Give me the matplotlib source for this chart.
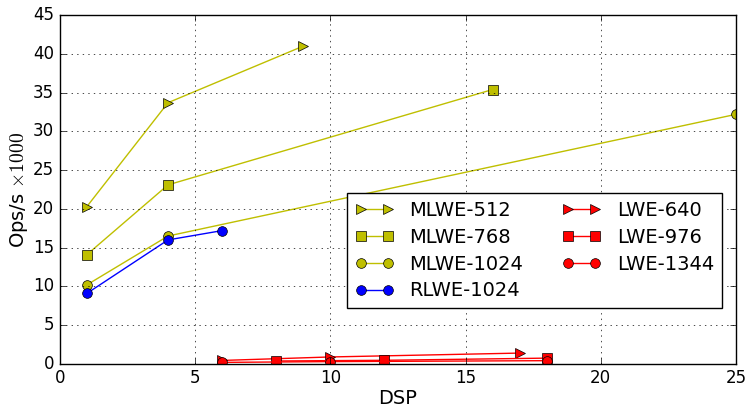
import matplotlib
matplotlib.use("Agg")
import matplotlib.pyplot as plt

plt.style.use("classic")
plt.rcParams["figure.facecolor"] = "white"
plt.rcParams["savefig.facecolor"] = "white"
plt.rcParams["mathtext.fontset"] = "cm"

# series: DSP count vs throughput (ops/s x1000)
mlwe512_x = [1, 4, 9]
mlwe512_y = [20.3, 33.7, 41.0]
mlwe768_x = [1, 4, 16]
mlwe768_y = [14.1, 23.1, 35.4]
mlwe1024_x = [1, 4, 25]
mlwe1024_y = [10.2, 16.5, 32.2]
rlwe1024_x = [1, 4, 6]
rlwe1024_y = [9.1, 16.0, 17.2]
lwe640_x = [6, 10, 17]
lwe640_y = [0.45, 0.9, 1.4]
lwe976_x = [8, 12, 18]
lwe976_y = [0.38, 0.47, 0.75]
lwe1344_x = [6, 10, 18]
lwe1344_y = [0.2, 0.3, 0.42]

fig = plt.figure(figsize=(7.48, 4.08), dpi=100)
ax = fig.add_axes([0.080, 0.108, 0.904, 0.855])

ms = 7
ax.plot(mlwe512_x, mlwe512_y, "y>-", ms=ms, label="MLWE-512")
ax.plot(mlwe768_x, mlwe768_y, "ys-", ms=ms, label="MLWE-768")
ax.plot(mlwe1024_x, mlwe1024_y, "yo-", ms=ms, label="MLWE-1024")
ax.plot(rlwe1024_x, rlwe1024_y, "bo-", ms=ms, label="RLWE-1024")
ax.plot(lwe640_x, lwe640_y, "r>-", ms=ms, label="LWE-640")
ax.plot(lwe976_x, lwe976_y, "rs-", ms=ms, label="LWE-976")
ax.plot(lwe1344_x, lwe1344_y, "ro-", ms=ms, label="LWE-1344")

ax.set_xlim(0, 25)
ax.set_ylim(0, 45)
ax.set_xlabel("DSP", fontsize=14, labelpad=1)
ax.set_ylabel(r"Ops/s $\times 1000$", fontsize=14, labelpad=2)
ax.tick_params(labelsize=12)
ax.grid(True)

ax.legend(loc="lower right", bbox_to_anchor=(0.979, 0.160), borderaxespad=0,
          ncol=2, fontsize=14, numpoints=2, columnspacing=2.0,
          labelspacing=0.4)

fig.savefig("out.png", dpi=100)
